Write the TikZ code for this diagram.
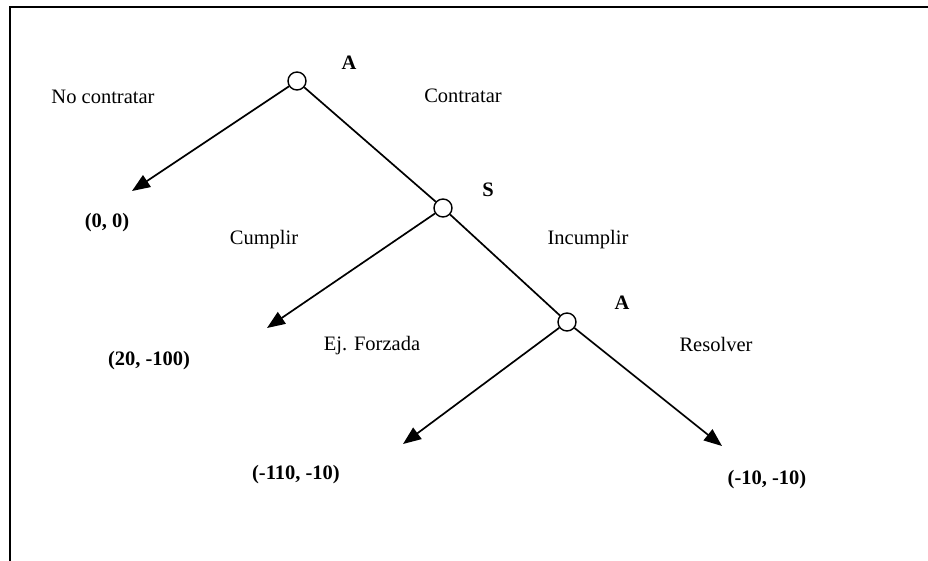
\documentclass[tikz,border=0pt]{standalone}
\usepackage{fontspec}
\setmainfont{Liberation Serif}
\usetikzlibrary{arrows.meta}

\begin{document}
\begin{tikzpicture}[x=1pt,y=-1pt,
			nodo/.style={
				circle,
				draw,
				line width=1.4pt,
				minimum size=18pt,
				inner sep=0pt
			},
			rama/.style={line width=1.7pt},
			flecha/.style={rama,-{Triangle[length=18pt,width=14pt]}},
			accion/.style={font=\fontsize{20.5}{24}\selectfont},
			jugador/.style={font=\fontsize{20.5}{24}\selectfont\bfseries},
			pago/.style={font=\fontsize{20.5}{24}\selectfont\bfseries}
			]
			\useasboundingbox (0,0) rectangle (928,560);
			% marco
			\draw[line width=2.8pt] (10,562) -- (10,7) -- (930,7);
			% nodos de decision
			\node[nodo](a) at (297,81) {};
			\node[nodo](s) at (443,208) {};
			\node[nodo](b) at (567,322) {};
			\node[jugador](la) at (349,63) {A};
			\node[jugador](ls) at (488,190) {S};
			\node[jugador](lb) at (622,303) {A};
			% extremos de las flechas
			\coordinate(t1) at (132,191);
			\coordinate(t2) at (267,328);
			\coordinate(t3) at (403,444);
			\coordinate(t4) at (722,446);
			% ramas
			\draw[flecha] (a) -- (t1);
			\draw[rama] (a) -- (s);
			\draw[flecha] (s) -- (t2);
			\draw[rama] (s) -- (b);
			\draw[flecha] (b) -- (t3);
			\draw[flecha] (b) -- (t4);
			% acciones
			\node[accion](nc) at (103,97) {No contratar};
			\node[accion](c) at (463,96) {Contratar};
			\node[accion](cu) at (264,240) {Cumplir};
			\node[accion](in) at (588,240) {Incumplir};
			\node[accion](ej) at (372,346) {Ej. Forzada};
			\node[accion](re) at (716,344) {Resolver};
			% pagos
			\node[pago](p1) at (107,223) {(0, 0)};
			\node[pago](p2) at (149,361) {(20, -100)};
			\node[pago](p3) at (296,475) {(-110, -10)};
			\node[pago](p4) at (767,480) {(-10, -10)};
		\end{tikzpicture}
\end{document}
